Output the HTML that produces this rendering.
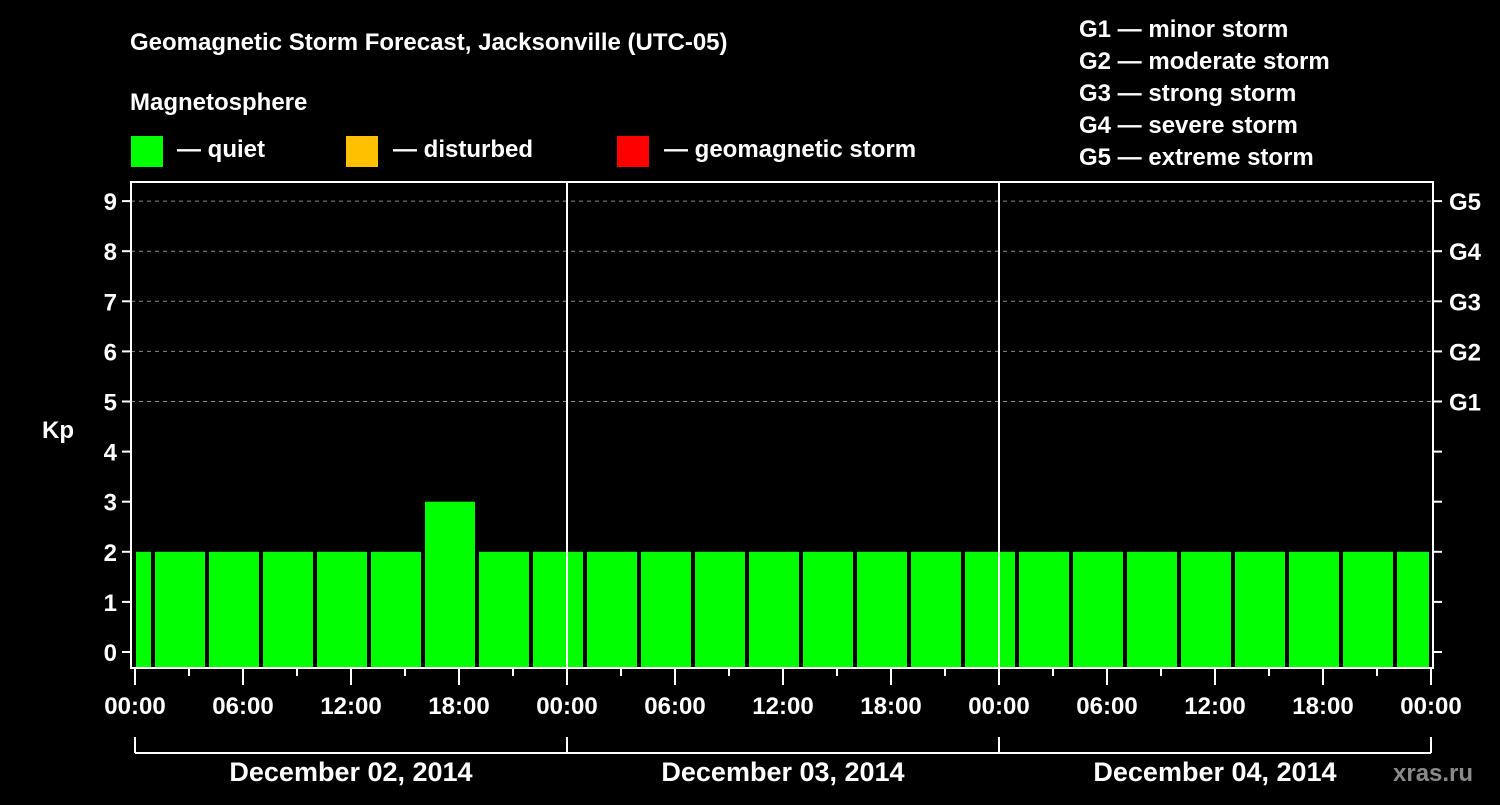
<!DOCTYPE html>
<html><head><meta charset="utf-8"><style>
body{margin:0;background:#000;width:1500px;height:800px;overflow:hidden}
text{font-family:"Liberation Sans",sans-serif;font-weight:bold;fill:#fff}
</style></head><body>
<svg id="c" width="1500" height="800">
<text x="130" y="50" font-size="24">Geomagnetic Storm Forecast, Jacksonville (UTC-05)</text>
<text x="130" y="110" font-size="24">Magnetosphere</text>
<rect x="131" y="136" width="32" height="31" fill="#00ff00"/>
<text x="177" y="157" font-size="24">— quiet</text>
<rect x="346" y="136" width="32" height="31" fill="#ffc000"/>
<text x="393" y="157" font-size="24">— disturbed</text>
<rect x="617" y="136" width="32" height="31" fill="#ff0000"/>
<text x="664" y="157" font-size="24">— geomagnetic storm</text>
<g font-size="24">
<text x="1079" y="37">G1 — minor storm</text>
<text x="1079" y="69">G2 — moderate storm</text>
<text x="1079" y="101">G3 — strong storm</text>
<text x="1079" y="133">G4 — severe storm</text>
<text x="1079" y="165">G5 — extreme storm</text>
</g>
<text x="42" y="438" font-size="24">Kp</text>
<text x="1393" y="781" font-size="24" fill="#888" style="fill:#8a8a8a">xras.ru</text>
<g id="grid"></g><g id="bars"></g><g id="axes"></g>
</svg>
<script>
const kpValues=[2,2,2,2,2,2,3,2,2,2,2,2,2,2,2,2,2,2,2,2,2,2,2,2,2];
const barStartHour=-2; // local hour of first 3h window start
const dayLabels=["December 02, 2014","December 03, 2014","December 04, 2014"];
const timeLabels=["00:00","06:00","12:00","18:00"];
const gLabels=["G1","G2","G3","G4","G5"];
const X0=135,PXH=18,Y0=652,PXK=50.1,L=131,R=1433,T=182,B=668;
const x=h=>X0+h*PXH, y=k=>Y0-k*PXK;
const NS="http://www.w3.org/2000/svg";
function mk(p,t,a){const e=document.createElementNS(NS,t);for(const k in a)e.setAttribute(k,a[k]);p.appendChild(e);return e;}
const grid=document.getElementById('grid'),bars=document.getElementById('bars'),axes=document.getElementById('axes');
for(let k=5;k<=9;k++){const l=mk(grid,'line',{x1:L,x2:R,y1:y(k),y2:y(k),stroke:'#888','stroke-dasharray':'4,4'});

}
kpValues.forEach((v,i)=>{let a=x(barStartHour+3*i)+2,b=x(barStartHour+3*i+3)-2;a=Math.max(a,x(0)+1);b=Math.min(b,x(72)-2);
const r=mk(bars,'rect',{x:a,y:y(v),width:b-a,height:B-1-y(v),fill:v>=5?'#ff0000':v>=4?'#ffc000':'#00ff00'});

});
for(let d=1;d<3;d++){const l=mk(axes,'line',{x1:x(24*d),x2:x(24*d),y1:T,y2:B,stroke:'#fff','stroke-width':2});

}
const f=mk(axes,'rect',{x:L,y:T,width:R-L,height:B-T,fill:'none',stroke:'#fff','stroke-width':2});


for(let k=0;k<=9;k++){mk(axes,'line',{x1:L-9,x2:L,y1:y(k),y2:y(k),stroke:'#fff','stroke-width':2});
mk(axes,'line',{x1:R,x2:R+9,y1:y(k),y2:y(k),stroke:'#fff','stroke-width':2});
const t=mk(axes,'text',{x:L-14,y:y(k)+9,'font-size':24,'text-anchor':'end'});t.textContent=k;


if(k>=5){const g=mk(axes,'text',{x:R+16,y:y(k)+9,'font-size':24});g.textContent=gLabels[k-5];

}}
for(let h=0;h<=72;h+=3){const long=h%6==0;mk(axes,'line',{x1:x(h),x2:x(h),y1:B,y2:B+(long?17:8),stroke:'#fff','stroke-width':2});
if(long){const t=mk(axes,'text',{x:x(h),y:714,'font-size':24,'text-anchor':'middle'});t.textContent=timeLabels[(h%24)/6];

}}
mk(axes,'line',{x1:x(0),x2:x(72),y1:753,y2:753,stroke:'#fff','stroke-width':2});
for(let d=0;d<=3;d++)mk(axes,'line',{x1:x(24*d),x2:x(24*d),y1:737,y2:753,stroke:'#fff','stroke-width':2});
dayLabels.forEach((s,d)=>{const t=mk(axes,'text',{x:x(24*d+12),y:781,'font-size':27,'text-anchor':'middle'});t.textContent=s;

});
</script>
</body></html>
